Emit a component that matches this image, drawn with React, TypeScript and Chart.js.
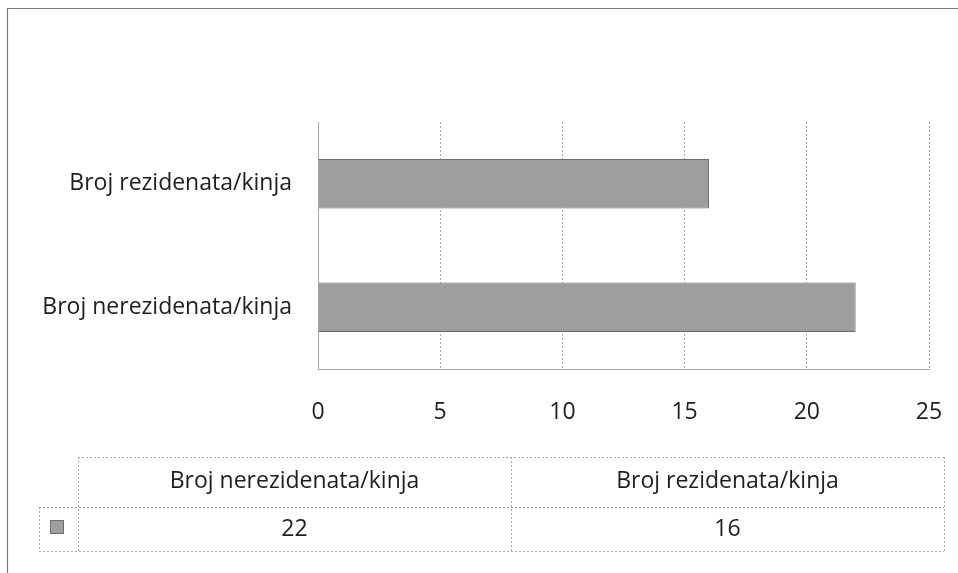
import { useEffect, useRef } from "react";
import { Chart, registerables } from "chart.js";

Chart.register(...registerables);

// Data
const categories = ["Broj nerezidenata/kinja", "Broj rezidenata/kinja"];
const values = [22, 16];
const xTicks = [0, 5, 10, 15, 20, 25];

const FONT_FAMILY = "'Open Sans', Lato, sans-serif";
const FONT_SIZE = 23;
const TEXT_COLOR = "#1e1e1e";
const BAR_FILL = "#9e9e9e";
const BAR_BORDER = "#6c6c6c";
const GRID_COLOR = "#a8a8a8";

const tablePlugin = {
  id: "dataTableAndFrame",
  afterDraw(chart: any) {
    const ctx = chart.ctx as CanvasRenderingContext2D;
    const labels: string[] = chart.data.labels;
    const data: number[] = chart.data.datasets[0].data;
    ctx.save();

    // outer frame (continues off the page right and bottom)
    ctx.strokeStyle = "#7a7a7a";
    ctx.lineWidth = 1.2;
    ctx.setLineDash([]);
    ctx.beginPath();
    ctx.moveTo(7.5, 600);
    ctx.lineTo(7.5, 8.5);
    ctx.lineTo(1000, 8.5);
    ctx.stroke();

    // table geometry
    const left = 39;
    const colStart = 78;
    const colEnd = 944;
    const top = 457;
    const mid = 507;
    const bottom = 551;
    const colW = (colEnd - colStart) / labels.length;

    ctx.strokeStyle = GRID_COLOR;
    ctx.lineWidth = 1;
    ctx.setLineDash([2, 2]);
    ctx.beginPath();
    ctx.moveTo(colStart, top + 0.5);
    ctx.lineTo(colEnd, top + 0.5);
    ctx.moveTo(left, mid + 0.5);
    ctx.lineTo(colEnd, mid + 0.5);
    ctx.moveTo(left, bottom + 0.5);
    ctx.lineTo(colEnd, bottom + 0.5);
    ctx.moveTo(left + 0.5, mid);
    ctx.lineTo(left + 0.5, bottom);
    for (let i = 0; i <= labels.length; i++) {
      const x = Math.round(colStart + i * colW) + 0.5;
      ctx.moveTo(x, top);
      ctx.lineTo(x, bottom);
    }
    ctx.stroke();
    ctx.setLineDash([]);

    // legend key
    ctx.fillStyle = BAR_FILL;
    ctx.strokeStyle = BAR_BORDER;
    ctx.fillRect(50, 520, 13, 13);
    ctx.strokeRect(50.5, 520.5, 13, 13);

    // texts
    ctx.fillStyle = TEXT_COLOR;
    ctx.font = `${FONT_SIZE}px ${FONT_FAMILY}`;
    ctx.textAlign = "center";
    ctx.textBaseline = "middle";
    labels.forEach((lab, i) => {
      const cx = colStart + (i + 0.5) * colW;
      ctx.fillText(lab, cx, (top + mid) / 2 - 1);
      ctx.fillText(String(data[i]), cx, (mid + bottom) / 2);
    });
    ctx.restore();
  },
};

export default function App() {
  const canvasRef = useRef<HTMLCanvasElement | null>(null);

  useEffect(() => {
    if (!canvasRef.current) return;
    const chart = new Chart(canvasRef.current, {
      type: "bar",
      data: {
        labels: categories,
        datasets: [
          {
            data: values,
            backgroundColor: BAR_FILL,
            borderColor: BAR_BORDER,
            borderWidth: 1,
            barPercentage: 0.4,
            categoryPercentage: 1,
          },
        ],
      },
      options: {
        indexAxis: "y",
        responsive: false,
        animation: false,
        devicePixelRatio: 1,
        layout: { padding: { top: 122, right: 29, left: 0, bottom: 0 } },
        plugins: {
          legend: { display: false },
          tooltip: { enabled: false },
          title: { display: false },
        },
        scales: {
          x: {
            type: "linear",
            min: 0,
            max: 25,
            afterBuildTicks: (scale: any) => {
              scale.ticks = xTicks.map((v) => ({ value: v }));
            },
            afterFit: (scale: any) => {
              scale.height = 573 - 369;
              scale.paddingLeft = 0;
              scale.paddingRight = 0;
            },
            grid: { color: GRID_COLOR, drawTicks: false, lineWidth: 1 },
            border: { display: true, color: GRID_COLOR, dash: [2, 2] },
            ticks: {
              padding: 30,
              color: TEXT_COLOR,
              font: { family: FONT_FAMILY, size: FONT_SIZE },
            },
          },
          y: {
            reverse: true,
            afterFit: (scale: any) => {
              scale.width = 318;
              scale.paddingTop = 0;
              scale.paddingBottom = 0;
            },
            grid: { display: false, drawTicks: false },
            border: { display: true, color: GRID_COLOR, dash: [2, 2] },
            ticks: {
              padding: 26,
              color: TEXT_COLOR,
              font: { family: FONT_FAMILY, size: FONT_SIZE },
            },
          },
        },
      },
      plugins: [tablePlugin],
    });
    return () => chart.destroy();
  }, []);

  return (
    <div style={{ position: "absolute", left: 0, top: 0, width: 958, height: 573, background: "#fff" }}>
      <canvas ref={canvasRef} width={958} height={573} />
    </div>
  );
}
